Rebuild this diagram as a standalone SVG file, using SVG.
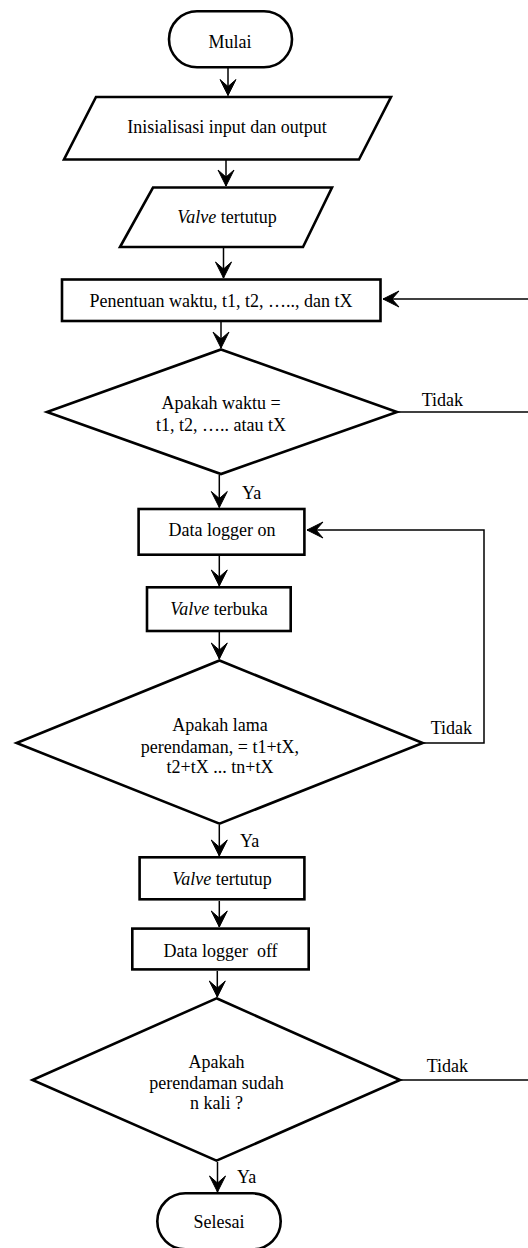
<svg xmlns="http://www.w3.org/2000/svg" width="528" height="1248" viewBox="0 0 528 1248">
<style>
.s{fill:#fff;stroke:#000;stroke-width:2.6;stroke-linejoin:miter;stroke-miterlimit:10}
.c{fill:none;stroke:#000;stroke-width:1.5}
.t{font-family:"Liberation Serif","Times New Roman",serif;font-size:18px;fill:#000;text-anchor:middle}
.l{font-family:"Liberation Serif","Times New Roman",serif;font-size:18px;fill:#000}
.i{font-style:italic}
</style>
<defs>
<marker id="ar" markerUnits="userSpaceOnUse" markerWidth="20" markerHeight="20" viewBox="-17 -10 19 20" refX="0" refY="0" orient="auto">
<path d="M0,0 L-16,-8 L-9,0 L-16,8 Z" fill="#000" stroke="#000" stroke-width="1" stroke-linejoin="miter"/>
</marker>
</defs>
<rect width="528" height="1248" fill="#fff"/>
<g id="connectors">
<path class="c" d="M228,68 V95.5" marker-end="url(#ar)"/>
<path class="c" d="M226,160 V186" marker-end="url(#ar)"/>
<path class="c" d="M223.5,248 V278" marker-end="url(#ar)"/>
<path class="c" d="M221,322 V348" marker-end="url(#ar)"/>
<path class="c" d="M219.3,475 V507.5" marker-end="url(#ar)"/>
<path class="c" d="M219.3,556 V586" marker-end="url(#ar)"/>
<path class="c" d="M219.3,632 V659" marker-end="url(#ar)"/>
<path class="c" d="M219.3,825 V856" marker-end="url(#ar)"/>
<path class="c" d="M219.3,901 V927" marker-end="url(#ar)"/>
<path class="c" d="M217.3,971 V997" marker-end="url(#ar)"/>
<path class="c" d="M217.5,1162 V1192" marker-end="url(#ar)"/>
<path class="c" d="M398,412 H528"/>
<path class="c" d="M528,299 H383" marker-end="url(#ar)"/>
<path class="c" d="M424,743 H484 V530 H307" marker-end="url(#ar)"/>
<path class="c" d="M401,1080 H528"/>
<text class="l" x="421.7" y="405.7">Tidak</text>
<text class="l" x="242" y="499">Ya</text>
<text class="l" x="430.7" y="734">Tidak</text>
<text class="l" x="240" y="847">Ya</text>
<text class="l" x="426.7" y="1072">Tidak</text>
<text class="l" x="237" y="1183">Ya</text>
</g>
<g id="mulai">
<rect class="s" x="169" y="11.3" width="123" height="56" rx="28"/>
<text class="t" x="230" y="48">Mulai</text>
</g>
<g id="inisialisasi">
<polygon class="s" points="96,97 391,97 359,159.5 64,159.5"/>
<text class="t" x="227" y="133.3">Inisialisasi input dan output</text>
</g>
<g id="valve-tertutup-1">
<polygon class="s" points="153,187.5 332,187.5 303,247 120,247"/>
<text class="t" x="227" y="223.3"><tspan class="i">Valve</tspan> tertutup</text>
</g>
<g id="penentuan">
<rect class="s" x="62" y="279.5" width="318.5" height="41.5"/>
<text class="t" x="221" y="306.7">Penentuan waktu, t1, t2, ….., dan tX</text>
</g>
<g id="decision-waktu">
<polygon class="s" points="221,349.5 397,412 221,474 47,412"/>
<text class="t" x="221" y="409.3">Apakah waktu =</text>
<text class="t" x="221" y="430.7">t1, t2, ….. atau tX</text>
</g>
<g id="data-logger-on">
<rect class="s" x="138.6" y="509" width="165.8" height="45.7"/>
<text class="t" x="222" y="536">Data logger on</text>
</g>
<g id="valve-terbuka">
<rect class="s" x="147" y="587.3" width="143.7" height="43.7"/>
<text class="t" x="219" y="615"><tspan class="i">Valve</tspan> terbuka</text>
</g>
<g id="decision-lama">
<polygon class="s" points="219.5,660.5 422.7,743 219.5,823.7 16.6,743"/>
<text class="t" x="220" y="731">Apakah lama</text>
<text class="t" x="220" y="752.5">perendaman, = t1+tX,</text>
<text class="t" x="220" y="772.5">t2+tX ... tn+tX</text>
</g>
<g id="valve-tertutup-2">
<rect class="s" x="139.6" y="857.3" width="164.8" height="42"/>
<text class="t" x="222" y="885"><tspan class="i">Valve</tspan> tertutup</text>
</g>
<g id="data-logger-off">
<rect class="s" x="132.3" y="928.6" width="176.4" height="40.8"/>
<text class="t" x="220.5" y="956.7" xml:space="preserve" style="white-space:pre">Data logger  off</text>
</g>
<g id="decision-n-kali">
<polygon class="s" points="216.5,998.3 400,1080 216.5,1160.7 32.5,1080"/>
<text class="t" x="216.5" y="1068">Apakah</text>
<text class="t" x="216.5" y="1089">perendaman sudah</text>
<text class="t" x="216.5" y="1109">n kali ?</text>
</g>
<g id="selesai">
<rect class="s" x="157.3" y="1193.3" width="123.4" height="56" rx="28"/>
<text class="t" x="219" y="1228">Selesai</text>
</g>
</svg>
